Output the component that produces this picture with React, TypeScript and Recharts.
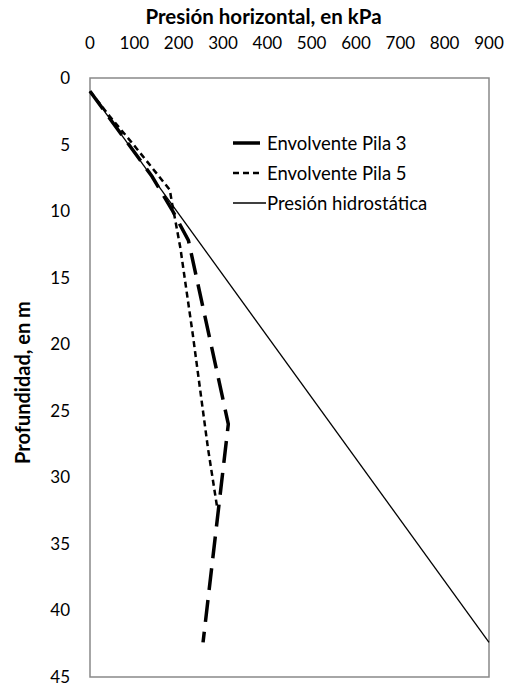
import React from 'react';
import { LineChart, Line, XAxis, YAxis, Legend, ReferenceArea } from 'recharts';

const xTicks = [0, 100, 200, 300, 400, 500, 600, 700, 800, 900];
const yTicks = [0, 5, 10, 15, 20, 25, 30, 35, 40, 45];

const pila3Pressure = [0, 140, 185, 222, 312, 255];
const pila3Depth = [1, 7.4, 9.9, 12.2, 26, 42.4];

const pila5Pressure = [0, 45, 98, 180, 185, 193, 204, 232, 266, 287];
const pila5Depth = [1, 2.9, 5.0, 8.4, 9.4, 10.8, 12.8, 19.3, 27.8, 32.3];

const hydroPressure = [0, 900];
const hydroDepth = [1, 42.4];

const toRows = (p: number[], d: number[]) => p.map((v, i) => ({ p: v, d: d[i] }));

const pila3 = toRows(pila3Pressure, pila3Depth);
const pila5 = toRows(pila5Pressure, pila5Depth);
const hydro = toRows(hydroPressure, hydroDepth);

const FONT = 'Lato, "Open Sans", sans-serif';

const legendStyles: Record<string, { dash?: string; width: number; len: number }> = {
  'Envolvente Pila 3': { width: 3.5, len: 27 },
  'Envolvente Pila 5': { dash: '6 4', width: 2.5, len: 29 },
  'Presión hidrostática': { width: 1.3, len: 33 },
};

const LegendContent = (props: any) => {
  const items = props.payload || [];
  return (
    <div style={{ fontFamily: FONT, fontSize: 18.5, color: '#000' }}>
      {items.map((it: any) => {
        const st = legendStyles[it.value] || { width: 1, len: 27 };
        return (
          <div key={it.value} style={{ display: 'flex', alignItems: 'center', height: 30 }}>
            <svg width={34} height={10}>
              <line x1={0} x2={st.len} y1={5} y2={5} stroke="#000" strokeWidth={st.width} strokeDasharray={st.dash} />
            </svg>
            <span style={{ whiteSpace: 'nowrap' }}>{it.value}</span>
          </div>
        );
      })}
    </div>
  );
};

export default function App() {
  return (
    <div style={{ position: 'absolute', left: 0, top: 0, background: '#fff' }}>
      <LineChart width={505} height={686} margin={{ top: 0, right: 16, bottom: 9, left: 0 }}>
        <XAxis
          type="number"
          dataKey="p"
          orientation="top"
          domain={[0, 900]}
          ticks={xTicks}
          interval={0}
          height={78}
          tickSize={0}
          tickMargin={29}
          tickLine={false}
          axisLine={false}
          tick={{ fill: '#000', fontSize: 17, fontFamily: FONT }}
          label={{
            content: (p: any) => {
              const vb = p.viewBox || {};
              return (
                <text x={vb.x + vb.width / 2 - 26} y={vb.y + 24} textAnchor="middle" fontFamily={FONT} fontWeight="bold" fontSize={20.5} fill="#000">
                  Presión horizontal, en kPa
                </text>
              );
            },
          }}
        />
        <YAxis
          type="number"
          dataKey="d"
          reversed
          domain={[0, 45]}
          ticks={yTicks}
          interval={0}
          width={90}
          tickSize={0}
          tickMargin={20}
          tickLine={false}
          axisLine={false}
          tick={{ fill: '#000', fontSize: 17, fontFamily: FONT }}
          label={{
            content: (p: any) => {
              const vb = p.viewBox || {};
              const cx = vb.x + 22;
              const cy = vb.y + vb.height / 2 + 5;
              return (
                <text x={cx} y={cy} transform={`rotate(-90 ${cx} ${cy})`} textAnchor="middle" dominantBaseline="central" fontFamily={FONT} fontWeight="bold" fontSize={20} fill="#000">
                  Profundidad, en m
                </text>
              );
            },
          }}
        />
        <ReferenceArea x1={0} x2={900} y1={0} y2={45} fill="none" stroke="#898989" strokeWidth={1.5} ifOverflow="visible" />
        <Line
          name="Envolvente Pila 3"
          data={pila3}
          dataKey="d"
          stroke="#000"
          strokeWidth={3.5}
          strokeDasharray="22 10"
          dot={false}
          activeDot={false}
          isAnimationActive={false}
          legendType="line"
        />
        <Line
          name="Envolvente Pila 5"
          data={pila5}
          dataKey="d"
          stroke="#000"
          strokeWidth={2.5}
          strokeDasharray="6 4"
          dot={false}
          activeDot={false}
          isAnimationActive={false}
          legendType="line"
        />
        <Line
          name="Presión hidrostática"
          data={hydro}
          dataKey="d"
          stroke="#000"
          strokeWidth={1.3}
          dot={false}
          activeDot={false}
          isAnimationActive={false}
          legendType="line"
        />
        <Legend
          content={LegendContent}
          layout="vertical"
          align="center"
          verticalAlign="middle"
          wrapperStyle={{ position: 'absolute', left: 233, top: 128, width: 'auto' }}
        />
      </LineChart>
    </div>
  );
}
